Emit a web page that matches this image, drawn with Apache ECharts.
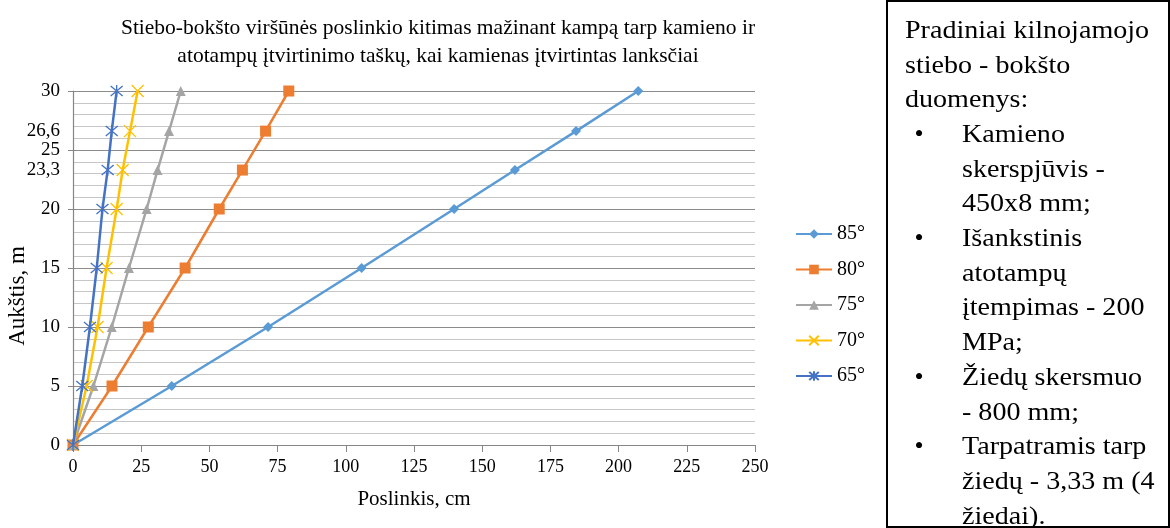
<!DOCTYPE html>
<html>
<head>
<meta charset="utf-8">
<script src="https://cdn.jsdelivr.net/npm/echarts@6/dist/echarts.min.js"></script>
<style>
html,body{margin:0;padding:0;background:#fff;}
#chart{width:1170px;height:528px;}
</style>
</head>
<body>
<div id="chart"></div>
<script>
// Heights (m) shared by all series
const heights = [0, 5, 10, 15, 20, 23.3, 26.6, 30];
// Displacement (cm) per angle
const disp85 = [0, 36.2, 71.5, 105.8, 139.7, 162.0, 184.4, 207.2];
const disp80 = [0, 14.3, 27.6, 41.1, 53.6, 62.1, 70.6, 79.1];
const disp75 = [0, 7.5, 14.2, 20.5, 27.0, 31.0, 35.2, 39.5];
const disp70 = [0, 5.0, 9.0, 12.3, 16.0, 18.2, 20.9, 23.7];
const disp65 = [0, 3.4, 6.2, 8.7, 10.8, 12.7, 14.2, 16.0];
const seriesNames = ['85°', '80°', '75°', '70°', '65°'];
const yLabelValues = [0, 5, 10, 15, 20, 23.3, 25, 26.6, 30];
const titleText = 'Stiebo-bokšto viršūnės poslinkio kitimas mažinant kampą tarp kamieno ir\natotampų įtvirtinimo taškų, kai kamienas įtvirtintas lanksčiai';
const xName = 'Poslinkis, cm';
const yName = 'Aukštis, m';
const boxLines = [
  {t: 'Pradiniai kilnojamojo', b: false, ind: false},
  {t: 'stiebo - bokšto', b: false, ind: false},
  {t: 'duomenys:', b: false, ind: false},
  {t: 'Kamieno', b: true, ind: true},
  {t: 'skerspjūvis -', b: false, ind: true},
  {t: '450x8 mm;', b: false, ind: true},
  {t: 'Išankstinis', b: true, ind: true},
  {t: 'atotampų', b: false, ind: true},
  {t: 'įtempimas - 200', b: false, ind: true},
  {t: 'MPa;', b: false, ind: true},
  {t: 'Žiedų skersmuo', b: true, ind: true},
  {t: '- 800 mm;', b: false, ind: true},
  {t: 'Tarpatramis tarp', b: true, ind: true},
  {t: 'žiedų - 3,33 m (4', b: false, ind: true},
  {t: 'žiedai).', b: false, ind: true}
];

const FONT = '"Liberation Serif", "Times New Roman", serif';
const pair = arr => arr.map((x, i) => [x, heights[i]]);

const colors = ['#5B9BD5', '#ED7D31', '#A5A5A5', '#FFC000', '#4472C4'];
const symbols = ['diamond', 'rect', 'triangle', 'path://M0,0L10,10M10,0L0,10', 'path://M0,0L10,10M10,0L0,10M5,-1L5,11'];
const sizes = [10, 11, 10, 12, 12];
const dataSets = [disp85, disp80, disp75, disp70, disp65];

const series = dataSets.map((d, i) => {
  const stroked = i >= 3;
  return {
    name: seriesNames[i],
    type: 'line',
    data: pair(d),
    symbol: symbols[i],
    symbolSize: sizes[i],
    showAllSymbol: true,
    lineStyle: {color: colors[i], width: 2.5},
    itemStyle: stroked ? {color: colors[i], borderColor: colors[i], borderWidth: 1.3} : {color: colors[i]},
    emphasis: {disabled: true},
    animation: false,
    z: 2 + i
  };
});

const graphics = [];
// Y axis name (rotated)
graphics.push({
  type: 'text', x: 18, y: 296, rotation: Math.PI / 2,
  style: {text: yName, font: '23px ' + FONT, fill: '#000', align: 'center', verticalAlign: 'middle'}
});
// Text box border
graphics.push({
  type: 'rect', shape: {x: 887, y: 1, width: 282, height: 526},
  style: {fill: 'none', stroke: '#000', lineWidth: 2}
});
boxLines.forEach((ln, i) => {
  const cy = 31 + 34.7 * i;
  graphics.push({
    type: 'text', x: ln.ind ? 962 : 905, y: cy, scaleX: 1.08,
    style: {text: ln.t, font: '26px ' + FONT, fill: '#000', align: 'left', verticalAlign: 'middle'}
  });
  if (ln.b) {
    graphics.push({
      type: 'text', x: 919, y: cy,
      style: {text: '•', font: '26px ' + FONT, fill: '#000', align: 'center', verticalAlign: 'middle'}
    });
  }
});

const chart = echarts.init(document.getElementById('chart'), null, {renderer: 'canvas'});
chart.setOption({
  animation: false,
  backgroundColor: '#fff',
  color: colors,
  title: {
    text: titleText,
    left: 433, top: 9, textAlign: 'center',
    textStyle: {fontFamily: FONT, fontSize: 21.5, fontWeight: 'normal', color: '#000', lineHeight: 28}
  },
  grid: {left: 73, right: 415, top: 91, bottom: 83, containLabel: false},
  legend: {
    orient: 'vertical', left: 790, top: 219,
    itemWidth: 36, itemHeight: 12, itemGap: 15.5,
    textStyle: {fontFamily: FONT, fontSize: 20, color: '#000'},
    data: seriesNames
  },
  xAxis: {
    type: 'value', min: 0, max: 250, interval: 25,
    name: xName, nameLocation: 'middle', nameGap: 44,
    nameTextStyle: {fontFamily: FONT, fontSize: 21, color: '#000'},
    axisLine: {show: true, onZero: false, lineStyle: {color: '#868686', width: 1.2}},
    axisTick: {show: true, length: 7, lineStyle: {color: '#868686'}},
    axisLabel: {fontFamily: FONT, fontSize: 18, color: '#000', margin: 13},
    splitLine: {show: false}
  },
  yAxis: {
    type: 'value', min: 0, max: 30, interval: 5,
    axisLine: {show: true, lineStyle: {color: '#868686', width: 1.2}},
    axisTick: {show: true, length: 5, lineStyle: {color: '#868686'}},
    minorTick: {show: false, splitNumber: 5},
    minorSplitLine: {show: true, lineStyle: {color: '#c6c6c6', width: 1}},
    axisLabel: {
      fontFamily: FONT, fontSize: 19, color: '#000', margin: 13,
      customValues: yLabelValues,
      formatter: v => String(v).replace('.', ',')
    },
    splitLine: {show: true, lineStyle: {color: '#8c8c8c', width: 1}}
  },
  series: series,
  graphic: graphics
});
</script>
</body>
</html>
